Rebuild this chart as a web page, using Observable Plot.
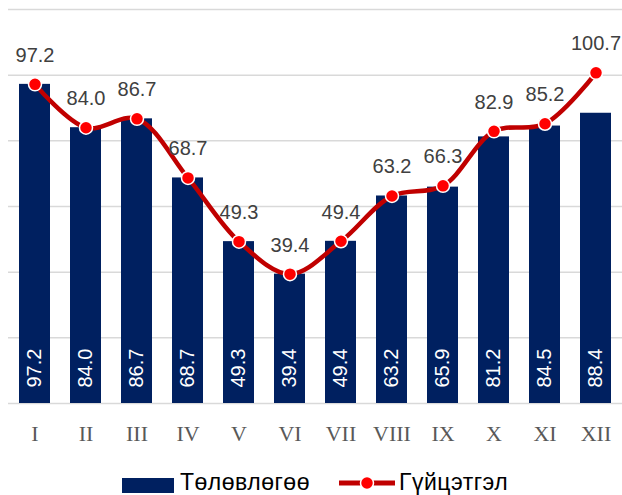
<!DOCTYPE html>
<html>
<head>
<meta charset="utf-8">
<script src="https://cdn.jsdelivr.net/npm/d3@7"></script>
<script src="https://cdn.jsdelivr.net/npm/@observablehq/plot@0.6"></script>
<style>
  html, body { margin: 0; padding: 0; background: #fff; overflow: hidden; }
  #chart svg { overflow: visible; display: block; }
  .legend { position: absolute; left: 0; top: 469px; height: 26px; display: flex; align-items: center;
            padding-left: 122px; font-family: "Liberation Sans", Arial, sans-serif; font-size: 23px; line-height: 26px;
            letter-spacing: 0.5px; color: #000; }
  .legend .item { display: flex; align-items: center; height: 26px; }
</style>
</head>
<body>
<div id="chart"></div>
<div class="legend">
  <div class="item"><span style="display:inline-block;width:52px;height:15px;background:#002060;margin-right:6px;position:relative;top:3px"></span><span>Төлөвлөгөө</span></div>
  <div class="item" style="margin-left:29px">
    <svg width="56" height="16" style="margin-right:4px;position:relative;top:1px"><line x1="0" y1="8" x2="56" y2="8" stroke="#c00000" stroke-width="5"/><circle cx="28" cy="8" r="6.5" fill="#ff0000" stroke="#fff" stroke-width="1.5"/></svg>
    <span>Гүйцэтгэл</span>
  </div>
</div>
<script>
const months = ["I","II","III","IV","V","VI","VII","VIII","IX","X","XI","XII"];
const plan = [97.2,84.0,86.7,68.7,49.3,39.4,49.4,63.2,65.9,81.2,84.5,88.4];
const actual = [97.2,84.0,86.7,68.7,49.3,39.4,49.4,63.2,66.3,82.9,85.2,100.7];
const gridTicks = [0,20,40,60,80,100,120];

const data = months.map((m, i) => ({month: m, plan: plan[i], actual: actual[i]}));

const chart = Plot.plot({
  width: 622,
  height: 465,
  marginLeft: 8,
  marginRight: 0,
  marginTop: 9,
  marginBottom: 62,
  style: {background: "#fff", overflow: "visible"},
  x: {domain: months, paddingInner: 0.385, paddingOuter: 0.19, label: null},
  y: {domain: [0, 120], axis: null},
  marks: [
    Plot.ruleY(gridTicks, {stroke: "#d9d9d9", strokeWidth: 1.5}),
    Plot.barY(data, {x: "month", y: "plan", fill: "#002060"}),
    Plot.text(data, {x: "month", y: 0, text: d => d.plan.toFixed(1), rotate: -90, textAnchor: "start",
      dy: -16, fill: "#ffffff", fontSize: 20, fontFamily: "Liberation Sans, Arial, sans-serif"}),
    Plot.line(data, {x: "month", y: "actual", curve: "catmull-rom", stroke: "#c00000", strokeWidth: 4.5}),
    Plot.dot(data, {x: "month", y: "actual", r: 6.5, fill: "#ff0000", stroke: "#ffffff", strokeWidth: 1.5}),
    Plot.text(data, {x: "month", y: "actual", text: d => d.actual.toFixed(1), dy: -29,
      fill: "#404040", fontSize: 20, fontFamily: "Liberation Sans, Arial, sans-serif"}),
    Plot.axisX({tickSize: 0, tickPadding: 22, fontSize: 22, fontFamily: "Liberation Serif, Times New Roman, serif",
      fill: "#595959", label: null})
  ]
});
document.getElementById("chart").appendChild(chart);
</script>
</body>
</html>
